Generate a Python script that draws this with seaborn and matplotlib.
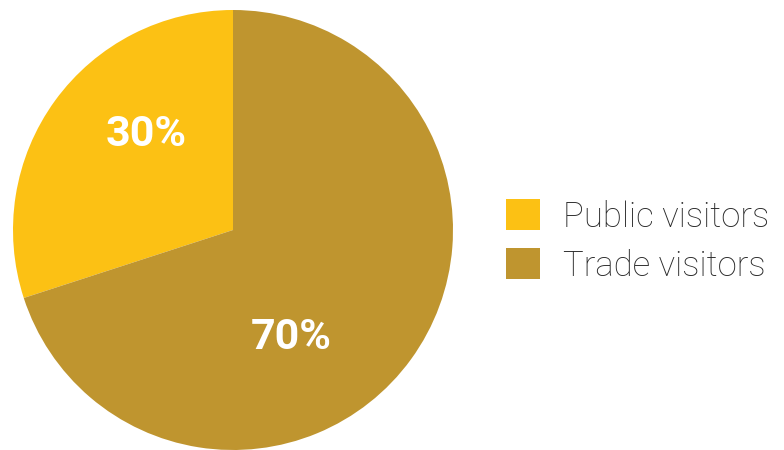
import matplotlib
matplotlib.use("Agg")
import matplotlib.pyplot as plt
import seaborn as sns

# Visitor split
categories = ["Public visitors", "Trade visitors"]
shares = [30, 70]
colors = ["#FCC114", "#BF952F"]

sns.set_theme(style="white")
plt.rcParams["font.family"] = ["Roboto", "DejaVu Sans"]

fig = plt.figure(figsize=(7.84, 4.5), dpi=100)
ax = fig.add_axes([13 / 784, 0.0, 440 / 784, 440 / 450])

wedges, _ = ax.pie(
    shares,
    colors=colors,
    startangle=90,
    counterclock=True,
    radius=1.0,
    wedgeprops=dict(linewidth=0),
)
ax.set_xlim(-1, 1)
ax.set_ylim(-1, 1)
ax.set_aspect("equal")
ax.axis("off")

# Percentage labels inside the wedges
label_pos = [(-0.395, 0.455), (0.264, -0.468)]
for (x, y), v in zip(label_pos, shares):
    ax.text(x, y, f"{v}%", color="white", fontsize=31, fontweight="bold",
            ha="center", va="center_baseline")

leg = fig.legend(
    wedges, categories,
    loc="center left",
    bbox_to_anchor=(506 / 784, 1 - 241 / 450),
    frameon=False,
    fontsize=25,
    handlelength=0.98,
    handleheight=0.98,
    handletextpad=0.66,
    labelspacing=0.42,
    borderaxespad=0,
    borderpad=0,
)
for t in leg.get_texts():
    t.set_color("#2a2a2a")
    t.set_fontweight("light")

fig.savefig("out.png", dpi=100)
